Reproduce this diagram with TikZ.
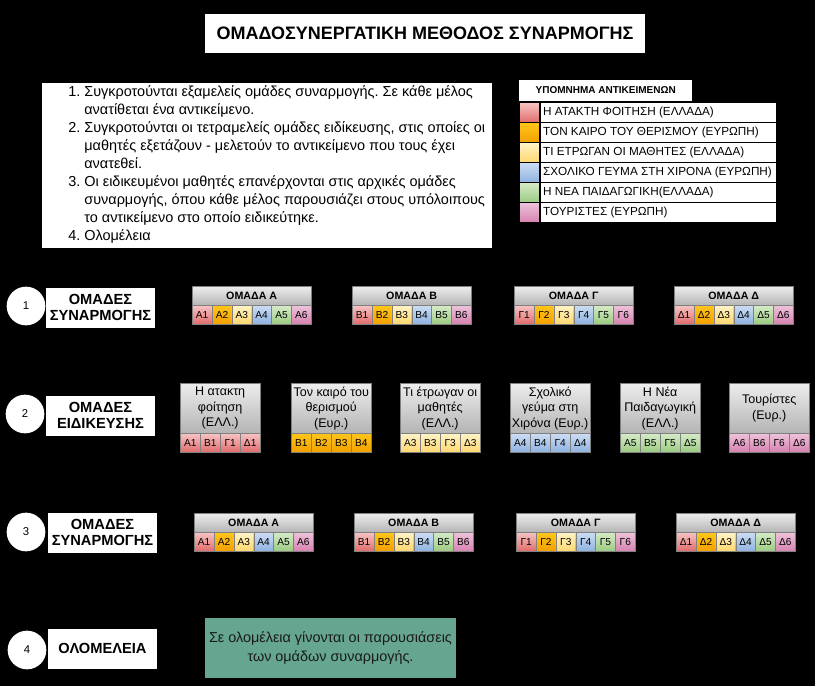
\documentclass[tikz,border=0pt]{standalone}
\usepackage{fontspec}
\setmainfont{Liberation Sans}
\usetikzlibrary{positioning}
\frenchspacing

\definecolor{k1t}{HTML}{F7C4C4}\definecolor{k1b}{HTML}{E16B6B}
\definecolor{k2t}{HTML}{FFC61A}\definecolor{k2b}{HTML}{F2A000}
\definecolor{k3t}{HTML}{FFF3C8}\definecolor{k3b}{HTML}{FFD76E}
\definecolor{k4t}{HTML}{CCDDF3}\definecolor{k4b}{HTML}{8EB2E0}
\definecolor{k5t}{HTML}{D5EBC8}\definecolor{k5b}{HTML}{9CCB82}
\definecolor{k6t}{HTML}{EDC3DA}\definecolor{k6b}{HTML}{D682B0}
\definecolor{headt}{HTML}{EDEDED}\definecolor{headb}{HTML}{B4B4B4}
\definecolor{plenary}{HTML}{66A690}

\begin{document}
\begin{tikzpicture}[x=0.75pt, y=-0.75pt,
  whitebox/.style={fill=white, inner sep=0pt, align=center},
  numcircle/.style={circle, fill=white, minimum size=29pt, inner sep=0pt, font=\fontsize{8.5}{10}\selectfont},
  rowlabel/.style={whitebox, minimum width=81.75pt, minimum height=30pt, font=\bfseries\fontsize{11}{12.5}\selectfont},
  grouphead/.style={draw=gray, line width=0.3pt, top color=headt, bottom color=headb, minimum width=89.25pt, minimum height=14.25pt, inner sep=0pt, font=\bfseries\fontsize{8}{9}\selectfont},
  spechead/.style={grouphead, minimum width=60pt, minimum height=37.5pt, align=center, font=\fontsize{9.4}{11.6}\selectfont},
  cell/.style={draw=gray, line width=0.3pt, top color=k#1t, bottom color=k#1b, minimum width=14.875pt, minimum height=14.25pt, inner sep=0pt, font=\fontsize{7.6}{9}\selectfont},
  swatch/.style={draw=black, line width=0.75pt, top color=k#1t, bottom color=k#1b, minimum width=15pt, minimum height=15pt, inner sep=0pt},
  legrow/.style={draw=black, line width=0.75pt, fill=white, minimum height=15pt, inner xsep=2pt, inner ysep=0pt, font=\fontsize{8.8}{10}\selectfont}]

  \fill[black] (0,0) rectangle (815,686);

  \node[whitebox, minimum width=330pt, minimum height=29.25pt, font=\bfseries\fontsize{13.5}{15}\selectfont] (title) at (425,33) {ΟΜΑΔΟΣΥΝΕΡΓΑΤΙΚΗ ΜΕΘΟΔΟΣ ΣΥΝΑΡΜΟΓΗΣ};

  \node[whitebox, anchor=north west, minimum width=337.5pt, minimum height=123.75pt] (steps) at (42,83) {};
  \node[anchor=north west, inner sep=0pt, font=\fontsize{10.85}{13.5}\selectfont] (stepstext) at (68,84) {%
    \begin{tabular}{@{}r@{\hspace{3pt}}l@{}}
      1. & Συγκροτούνται εξαμελείς ομάδες συναρμογής. Σε κάθε μέλος\\
         & ανατίθεται ένα αντικείμενο.\\
      2. & Συγκροτούνται οι τετραμελείς ομάδες ειδίκευσης, στις οποίες οι\\
         & μαθητές εξετάζουν - μελετούν το αντικείμενο που τους έχει\\
         & ανατεθεί.\\
      3. & Οι ειδικευμένοι μαθητές επανέρχονται στις αρχικές ομάδες\\
         & συναρμογής, όπου κάθε μέλος παρουσιάζει στους υπόλοιπους\\
         & το αντικείμενο στο οποίο ειδικεύτηκε.\\
      4. & Ολομέλεια
    \end{tabular}};

  \foreach \t [count=\i] in {Η ΑΤΑΚΤΗ ΦΟΙΤΗΣΗ (ΕΛΛΑΔΑ), ΤΟΝ ΚΑΙΡΟ ΤΟΥ ΘΕΡΙΣΜΟΥ (ΕΥΡΩΠΗ),
      ΤΙ ΕΤΡΩΓΑΝ ΟΙ ΜΑΘΗΤΕΣ (ΕΛΛΑΔΑ), ΣΧΟΛΙΚΟ ΓΕΥΜΑ ΣΤΗ ΧΙΡΟΝΑ (ΕΥΡΩΠΗ),
      Η ΝΕΑ ΠΑΙΔΑΓΩΓΙΚΗ(ΕΛΛΑΔΑ), ΤΟΥΡΙΣΤΕΣ (ΕΥΡΩΠΗ)} {
    \node[swatch=\i, anchor=north west] (sw\i) at (519,{102+(\i-1)*20}) {};
    \node[legrow, right=0pt of sw\i] (lg\i) {\makebox[173pt][l]{\t}};
  }
  \node[whitebox, anchor=south west, minimum width=129.75pt, minimum height=15.75pt, font=\bfseries\fontsize{7.5}{8}\selectfont] (leghead) at ([yshift=0.75pt]sw1.north west) {ΥΠΟΜΝΗΜΑ ΑΝΤΙΚΕΙΜΕΝΩΝ};

  \node[numcircle] (n1) at (26,306) {1};
  \node[numcircle] (n2) at (25,414) {2};
  \node[numcircle] (n3) at (26,532) {3};
  \node[numcircle] (n4) at (27,650) {4};
  \node[rowlabel] (r1) at (100.5,307.5) {ΟΜΑΔΕΣ\\ΣΥΝΑΡΜΟΓΗΣ};
  \node[rowlabel] (r2) at (100.5,415.5) {ΟΜΑΔΕΣ\\ΕΙΔΙΚΕΥΣΗΣ};
  \node[rowlabel] (r3) at (102.5,532.5) {ΟΜΑΔΕΣ\\ΣΥΝΑΡΜΟΓΗΣ};
  \node[rowlabel] (r4) at (102.5,648.5) {ΟΛΟΜΕΛΕΙΑ};

  \foreach \g/\gn/\gx in {Α/a/192, Β/b/352, Γ/c/514, Δ/d/674} {
    \node[grouphead, anchor=north west] (h1\gn) at (\gx,286) {ΟΜΑΔΑ \g};
    \node[grouphead, anchor=north west] (h3\gn) at (\gx+2,513) {ΟΜΑΔΑ \g};
    \foreach \k in {1,...,6} {
      \node[cell=\k, anchor=north west] (c1\gn\k) at ({\gx+(\k-1)*119/6},305) {\g\k};
      \node[cell=\k, anchor=north west] (c3\gn\k) at ({\gx+2+(\k-1)*119/6},532) {\g\k};
    }
  }

  \foreach \t/\x/\k/\cells [count=\s] in {
      {Η ατακτη\\φοίτηση\\(ΕΛΛ.)}/180/1/{Α1,Β1,Γ1,Δ1},
      {Τον καιρό του\\θερισμού\\(Ευρ.)}/291/2/{Β1,Β2,Β3,Β4},
      {Τι έτρωγαν οι\\μαθητές\\(ΕΛΛ.)}/400/3/{Α3,Β3,Γ3,Δ3},
      {Σχολικό\\γεύμα στη\\Χιρόνα (Ευρ.)}/510/4/{Α4,Β4,Γ4,Δ4},
      {Η Νέα\\Παιδαγωγική\\(ΕΛΛ.)}/620/5/{Α5,Β5,Γ5,Δ5},
      {Τουρίστες\\(Ευρ.)}/729/6/{Α6,Β6,Γ6,Δ6}} {
    \node[spechead, anchor=north west] (sp\s) at (\x,383) {\t};
    \foreach \lab [count=\j] in \cells
      \node[cell=\k, minimum width=15pt, anchor=north west] (sp\s c\j) at ({\x+(\j-1)*20},433) {\lab};
  }

  \node[fill=plenary, minimum width=188.25pt, minimum height=45pt, align=center, text=black!90, font=\fontsize{10.8}{14.25}\selectfont] (plen) at (330.5,648) {Σε ολομέλεια γίνονται οι παρουσιάσεις\\των ομάδων συναρμογής.};
\end{tikzpicture}
\end{document}
